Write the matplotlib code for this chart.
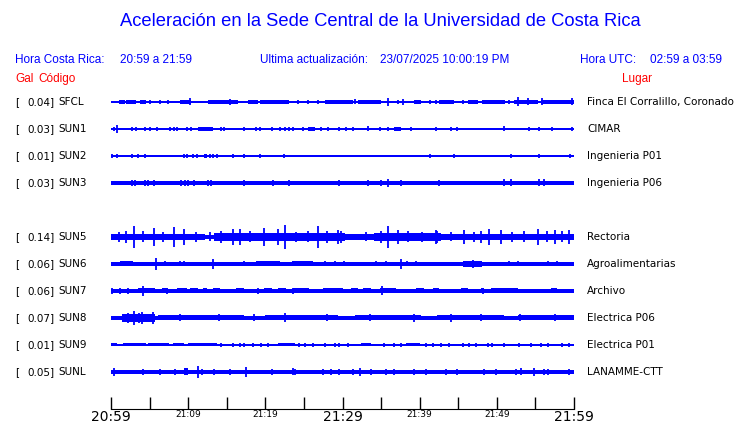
import numpy as np
import matplotlib.pyplot as plt

# estaciones
codes = ["SFCL", "SUN1", "SUN2", "SUN3", "SUN5", "SUN6", "SUN7", "SUN8", "SUN9", "SUNL"]
gal = [0.04, 0.03, 0.01, 0.03, 0.14, 0.06, 0.06, 0.07, 0.01, 0.05]
places = ["Finca El Corralillo, Coronado", "CIMAR", "Ingenieria P01", "Ingenieria P06",
          "Rectoria", "Agroalimentarias", "Archivo", "Electrica P06", "Electrica P01",
          "LANAMME-CTT"]

# semi-amplitud base de cada traza (px)
base_amp = [0.9, 0.8, 0.6, 1.8, 2.4, 1.8, 1.7, 2.0, 0.7, 2.0]

# tramos activos: (min inicio, min fin, semi-amplitud px)
busy = [
    [(1.0, 1.8, 1.6), (2.0, 3.3, 1.6), (3.7, 4.6, 1.6), (8.9, 10.4, 1.6), (12.6, 16.5, 1.6),
     (17.8, 19.1, 1.6), (19.3, 23.1, 1.6), (27.7, 31.3, 1.6), (32.0, 35.0, 1.6),
     (39.3, 40.2, 1.6), (42.5, 44.5, 1.6), (46.2, 47.5, 1.6), (48.1, 51.0, 1.6),
     (52.2, 55.3, 1.6), (55.7, 60.0, 1.6)],
    [(11.3, 13.2, 2.0), (25.5, 26.4, 2.0), (36.7, 37.6, 2.0)],
    [(12.0, 12.4, 1.8)],
    [],
    [(0.0, 12.2, 3.3), (13.4, 26.8, 3.6), (26.8, 30.3, 4.0), (30.3, 34.1, 2.9),
     (34.1, 42.8, 3.6), (42.8, 44.9, 2.6), (44.9, 60.0, 3.3)],
    [(1.2, 2.9, 2.5), (18.8, 21.9, 2.5), (23.4, 26.2, 2.5), (45.6, 48.1, 3.0)],
    [(3.5, 5.7, 2.5), (6.6, 7.4, 2.5), (8.5, 9.8, 2.5), (10.2, 11.3, 2.5), (11.9, 12.4, 2.5),
     (13.2, 14.1, 2.5), (16.2, 17.3, 2.5), (19.8, 20.8, 2.5), (21.6, 22.7, 2.5),
     (23.6, 25.7, 2.5), (27.5, 30.0, 2.5), (31.1, 32.0, 2.5), (32.6, 33.7, 2.5),
     (34.8, 36.9, 2.5), (39.5, 40.6, 2.5), (41.7, 42.5, 2.5), (45.3, 46.2, 2.5),
     (48.0, 48.4, 2.5), (49.2, 52.7, 2.5), (57.0, 57.8, 2.5)],
    [(1.4, 5.7, 3.6), (6.1, 17.3, 2.5), (19.9, 29.4, 2.5), (31.6, 40.2, 2.5),
     (42.3, 50.9, 2.5), (52.7, 60.0, 2.5)],
    [(0.0, 0.8, 1.5), (1.5, 4.5, 1.5), (4.8, 7.5, 1.5), (8.0, 9.5, 1.5), (10.0, 13.7, 1.5),
     (21.6, 23.8, 1.5), (32.4, 33.7, 1.5), (38.2, 40.0, 1.5)],
    [(9.4, 10.0, 3.5)],
]

# picos: (minuto, semi-amplitud px)
spikes = [
    [(10.3, 3.5), (15.4, 3.0), (35.9, 4.0), (37.8, 3.0), (52.8, 4.5), (54.0, 3.5),
     (55.9, 3.5), (59.8, 3.5), (21.6, 2.0), (31.6, 2.5), (5.0, 2.0), (6.3, 2.0), (7.4, 2.0),
     (24.2, 2.0), (25.5, 2.0), (26.8, 2.0), (37.2, 2.0), (41.3, 2.0), (42.1, 2.0),
     (45.6, 2.0), (51.6, 2.0)],
    [(0.8, 4.0), (0.4, 2.0), (2.7, 2.0), (3.3, 2.0), (4.4, 2.0), (5.0, 2.0), (5.9, 2.0),
     (7.6, 2.0), (8.1, 2.0), (8.5, 2.0), (9.8, 2.0), (10.4, 2.0), (14.3, 2.0), (14.7, 2.0),
     (17.3, 2.0), (18.8, 2.0), (19.3, 2.0), (20.8, 2.0), (21.9, 2.0), (22.5, 2.0),
     (23.1, 2.0), (23.6, 2.0), (24.9, 2.0), (27.2, 2.0), (28.1, 2.0), (29.6, 2.0),
     (30.5, 2.0), (31.3, 2.0), (33.3, 2.5), (34.8, 2.0), (35.9, 2.0), (38.9, 2.0),
     (42.1, 2.0), (44.1, 2.0), (44.9, 2.0), (50.9, 2.5), (54.2, 2.0), (55.5, 2.0),
     (57.2, 2.0), (59.8, 2.0)],
    [(0.1, 2.0), (0.8, 2.0), (2.7, 2.0), (3.5, 2.0), (4.4, 2.0), (9.4, 2.0), (9.8, 2.0),
     (10.6, 2.0), (11.1, 2.0), (12.8, 2.0), (13.2, 2.0), (13.7, 2.0), (15.8, 2.0),
     (17.2, 2.0), (19.3, 2.0), (22.4, 2.0), (41.4, 2.0), (44.4, 2.0), (51.9, 2.0),
     (55.5, 2.0), (59.5, 2.0)],
    [(2.7, 3.0), (3.1, 3.0), (4.4, 3.0), (4.8, 3.0), (5.6, 3.0), (9.1, 3.0), (9.6, 3.0),
     (10.0, 3.0), (10.8, 3.0), (12.6, 3.0), (13.0, 3.0), (17.2, 3.0), (21.0, 3.0),
     (23.1, 3.0), (29.6, 3.0), (33.3, 3.0), (35.0, 3.0), (35.9, 4.0), (37.6, 3.0),
     (42.5, 3.0), (50.9, 3.5), (51.9, 3.5), (55.5, 3.5), (56.1, 3.5)],
    [(3.0, 11.0), (5.6, 9.0), (8.2, 10.0), (9.4, 8.0), (15.8, 8.0), (16.7, 8.0), (19.8, 9.0),
     (21.6, 8.0), (22.5, 12.0), (26.8, 11.0), (35.9, 11.0), (37.2, 7.0), (42.1, 7.0),
     (45.8, 7.0), (49.0, 8.0), (50.5, 7.0), (55.3, 8.0), (57.6, 7.0), (59.4, 7.0),
     (2.0, 6.0), (14.3, 6.0), (29.4, 7.0), (29.8, 6.0), (42.3, 6.0),
     (1.0, 5.0), (4.2, 5.5), (6.8, 5.0), (11.0, 5.0), (12.8, 4.5), (18.0, 5.5), (24.0, 5.0),
     (25.5, 5.5), (28.0, 6.0), (33.0, 4.5), (35.0, 6.0), (38.5, 5.5), (40.3, 5.0),
     (44.0, 4.5), (47.0, 5.0), (48.0, 6.0), (52.0, 5.0), (53.5, 5.5), (56.5, 5.5),
     (58.5, 5.5)],
    [(5.8, 6.0), (13.2, 5.0), (37.6, 5.0), (46.9, 4.0), (7.0, 2.5), (8.9, 2.5), (9.4, 2.5),
     (17.3, 2.5), (27.7, 2.5), (29.0, 2.5), (30.2, 2.5), (34.4, 2.5), (35.7, 2.5),
     (38.4, 2.5), (39.5, 2.5), (51.6, 2.5), (52.7, 2.5), (56.6, 2.5), (57.8, 2.5)],
    [(4.1, 5.0), (35.1, 4.5), (0.1, 3.0), (1.2, 3.0), (2.2, 3.0), (7.3, 3.0), (19.1, 3.0),
     (23.6, 3.0), (48.2, 3.0)],
    [(3.0, 7.0), (4.0, 6.0), (5.5, 6.0), (2.2, 5.0), (3.6, 5.0), (22.5, 4.5), (39.3, 4.0),
     (44.1, 4.0), (9.0, 3.5), (14.0, 3.5), (18.5, 3.5), (28.0, 3.5), (33.5, 3.5),
     (48.0, 3.5), (53.0, 3.5), (57.5, 3.5)],
    [(14.3, 1.8), (15.8, 1.8), (16.7, 1.8), (17.3, 1.8), (18.4, 1.8), (19.5, 1.8),
     (20.3, 1.8), (24.4, 1.8), (25.1, 1.8), (26.2, 1.8), (27.7, 1.8), (29.0, 1.8),
     (29.6, 1.8), (30.7, 1.8), (35.4, 1.8), (36.7, 1.8), (37.6, 1.8), (40.8, 1.8),
     (41.7, 1.8), (42.8, 1.8), (43.8, 1.8), (45.6, 1.8), (46.4, 1.8), (47.3, 1.8),
     (48.8, 1.8), (49.4, 1.8), (50.9, 1.8), (52.9, 1.8), (54.4, 1.8), (55.7, 1.8),
     (56.6, 1.8), (58.5, 1.8), (59.4, 1.8)],
    [(0.4, 4.0), (11.3, 6.0), (17.5, 5.0), (32.3, 4.0), (23.6, 3.5), (54.8, 4.0), (53.1, 3.5),
     (6.3, 3.0), (4.1, 3.0), (8.3, 3.0), (11.8, 3.0), (13.4, 3.0), (15.4, 3.0), (20.8, 3.0),
     (23.8, 3.0), (27.5, 3.0), (28.5, 3.0), (29.6, 3.0), (31.3, 3.0), (33.7, 3.0),
     (35.6, 3.0), (36.7, 3.0), (39.3, 3.0), (40.8, 3.0), (43.4, 3.0), (44.9, 3.0),
     (48.4, 3.0), (49.9, 3.0), (52.5, 3.0), (56.1, 3.0), (56.6, 3.0), (59.4, 3.0)],
]

tick_min = list(range(0, 61, 5))
tick_labels = {0: "20:59", 10: "21:09", 20: "21:19", 30: "21:29", 40: "21:39", 50: "21:49", 60: "21:59"}
big_ticks = [0, 30, 60]

W, H = 740, 423
BLUE = "#0000ff"
fig = plt.figure(figsize=(W / 100, H / 100), dpi=100)


def fx(x):
    return x / W


def fy(y):
    return 1 - y / H


# titulos
fig.text(fx(380), fy(22), "Aceleración en la Sede Central de la Universidad de Costa Rica",
         ha="center", va="center", color=BLUE, fontsize=13.2, family="Liberation Sans")
hdr = dict(va="center", color=BLUE, fontsize=8.5, family="Liberation Sans")
fig.text(fx(15), fy(60), "Hora Costa Rica:", ha="left", **hdr)
fig.text(fx(120), fy(60), "20:59 a 21:59", ha="left", **hdr)
fig.text(fx(260), fy(60), "Ultima actualización:", ha="left", **hdr)
fig.text(fx(380), fy(60), "23/07/2025 10:00:19 PM", ha="left", **hdr)
fig.text(fx(580), fy(60), "Hora UTC:", ha="left", **hdr)
fig.text(fx(650), fy(60), "02:59 a 03:59", ha="left", **hdr)
red = dict(va="center", color="#ff0000", fontsize=8.5, family="Liberation Sans")
fig.text(fx(15), fy(79), "Gal", ha="left", **red)
fig.text(fx(38), fy(79), "Código", ha="left", **red)
fig.text(fx(622), fy(79), "Lugar", ha="left", **red)

# trazas
ROW0, STEP = 102, 27
ax = fig.add_axes([fx(111), 0, fx(574) - fx(111), 1])
ax.set_xlim(0, 60)
ax.set_ylim(H, 0)
ax.axis("off")

lab = dict(va="center", color="black", fontsize=7.5, family="DejaVu Sans")
for i, code in enumerate(codes):
    slot = i if i < 4 else i + 1
    yc = ROW0 + STEP * slot
    ax.fill_between([0, 60], yc - base_amp[i], yc + base_amp[i], color=BLUE, lw=0,
                    antialiased=False)
    for a, b, h in busy[i]:
        ax.fill_between([a, b], yc - h, yc + h, color=BLUE, lw=0, antialiased=False)
    for m, h in spikes[i]:
        ax.vlines(m, yc - h, yc + h, color=BLUE, lw=1.3)
    fig.text(fx(15), fy(yc), "[", ha="left", **lab)
    fig.text(fx(55), fy(yc), f"{gal[i]:.2f}]", ha="right", **lab)
    fig.text(fx(58), fy(yc), code, ha="left", **lab)
    fig.text(fx(587), fy(yc), places[i], ha="left", **lab)

# eje de tiempo
tax = fig.add_axes([fx(111), fy(409), fx(574) - fx(111), 0.02])
tax.patch.set_alpha(0)
for s in ["top", "left", "right"]:
    tax.spines[s].set_visible(False)
tax.set_yticks([])
tax.set_xlim(0, 60)
tax.set_xticks(tick_min)
tax.set_xticklabels([tick_labels.get(t, "") for t in tick_min])
tax.tick_params(axis="x", direction="in", length=9, width=1, pad=0.5)
for t, lbl in zip(tick_min, tax.get_xticklabels()):
    lbl.set_fontsize(10 if t in big_ticks else 6.5)
    lbl.set_family("DejaVu Sans")

fig.savefig("out.png", dpi=100)
